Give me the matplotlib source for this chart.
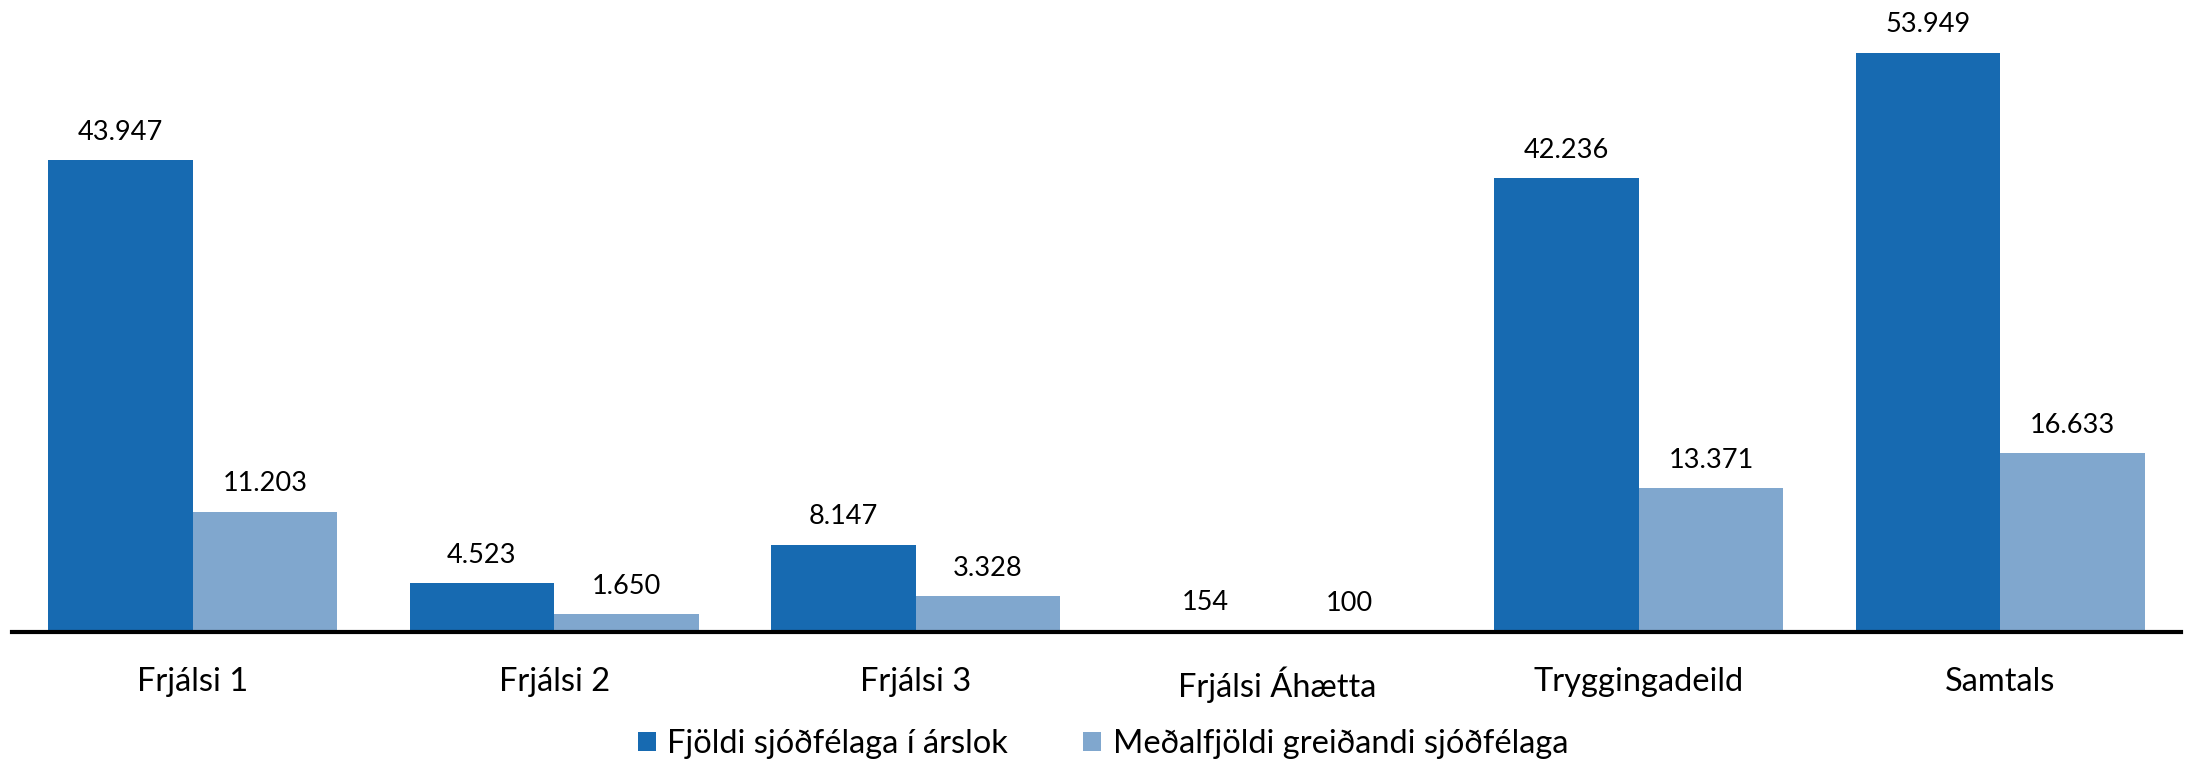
#!/usr/bin/env python
"""Fjöldi sjóðfélaga eftir deildum - grouped bar chart."""
import matplotlib
matplotlib.use('Agg')
import matplotlib.pyplot as plt
import numpy as np

categories = ['Frjálsi 1', 'Frjálsi 2', 'Frjálsi 3', 'Frjálsi Áhætta',
              'Tryggingadeild', 'Samtals']
fjoldi_arslok = [43947, 4523, 8147, 154, 42236, 53949]
medalfjoldi_greidandi = [11203, 1650, 3328, 100, 13371, 16633]
series_names = ['Fjöldi sjóðfélaga í árslok', 'Meðalfjöldi greiðandi sjóðfélaga']

DARK = '#176AB1'
LIGHT = '#80A7CE'

plt.rcParams['font.family'] = ['Lato', 'DejaVu Sans']
FS_VAL = 19.5   # value labels
FS_CAT = 23.5   # category labels / legend

W, H = 2189, 764
fig = plt.figure(figsize=(W / 100, H / 100), dpi=100)

# axes placement in pixels
x0, x1 = 12, 2181
y_axis = 632
ax = fig.add_axes([x0 / W, 1 - y_axis / H, (x1 - x0) / W, y_axis / H])

x = np.arange(len(categories))
bw = 0.40
b1 = ax.bar(x - bw / 2, fjoldi_arslok, bw, color=DARK, label=series_names[0])
b2 = ax.bar(x + bw / 2, medalfjoldi_greidandi, bw, color=LIGHT,
            label=series_names[1])


def fmt(v):
    return f'{v:,}'.replace(',', '.')


for bars, vals in [(b1, fjoldi_arslok), (b2, medalfjoldi_greidandi)]:
    for rect, v in zip(bars, vals):
        ax.annotate(fmt(v), (rect.get_x() + rect.get_width() / 2, v),
                    xytext=(0, 11), textcoords='offset points',
                    ha='center', va='bottom', fontsize=FS_VAL)

ax.set_xlim(-0.5, len(categories) - 0.5)
ax.set_ylim(0, 58850)
ax.set_xticks(x)
ax.set_xticklabels(categories, fontsize=FS_CAT)
ax.tick_params(axis='x', length=0, pad=25)
ax.set_yticks([])
for s in ['top', 'left', 'right']:
    ax.spines[s].set_visible(False)
ax.spines['bottom'].set_linewidth(3)
ax.spines['bottom'].set_color('black')

fig.legend(loc='center', bbox_to_anchor=(1103 / W, 1 - 744 / H), ncol=2,
           frameon=False, fontsize=FS_CAT, handlelength=0.55, handleheight=0.55,
           handletextpad=0.35, columnspacing=2.3)

fig.savefig('out.png', dpi=100)
